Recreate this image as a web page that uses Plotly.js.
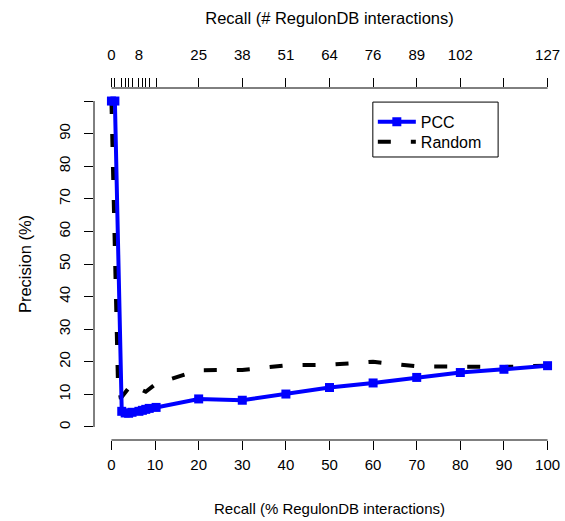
<!DOCTYPE html>
<html><head><meta charset="utf-8">
<script src="https://cdn.plot.ly/plotly-3.0.1.min.js"></script>
<style>html,body{margin:0;padding:0;background:#fff}#chart{width:565px;height:521px}</style>
</head><body><div id="chart"></div>
<script>
// ---- data ----
const pccRecall = [0, 0.79, 2.36, 3.15, 3.94, 4.72, 6.30, 7.09, 7.87, 8.66, 10.24, 20, 30, 40, 50, 60, 70, 80, 90, 100];
const pccPrecision = [100, 100, 4.8, 4.3, 4.2, 4.5, 4.8, 5.1, 5.4, 5.7, 6.0, 8.6, 8.2, 10.1, 12.1, 13.5, 15.2, 16.7, 17.7, 18.8];
const randomRecall = [0, 1.57, 2.36, 4.72, 6.30, 7.87, 10.24, 20, 30, 40, 50, 60, 70, 80, 90, 100];
const randomPrecision = [100, 9.0, 9.2, 13.3, 11.8, 10.8, 13.3, 17.4, 17.5, 18.9, 19.1, 20.0, 18.6, 18.4, 18.4, 18.8];
const seriesNames = ['PCC', 'Random'];

const bottomTickVals = [0, 10, 20, 30, 40, 50, 60, 70, 80, 90, 100];
const leftTickVals = [0, 10, 20, 30, 40, 50, 60, 70, 80, 90, 100];
const leftTickText = ['0', '10', '20', '30', '40', '50', '60', '70', '80', '90', ''];
const totalInteractions = 127;
const topTickCounts = [0, 1, 3, 4, 5, 6, 8, 9, 10, 11, 13];
const topTickPercents = [20, 30, 40, 50, 60, 70, 80, 90, 100];
const topTickText = ['0', '', '', '', '', '', '8', '', '', '', '', '25', '38', '51', '64', '76', '89', '102', '', '127'];

const xTitle = 'Recall (% RegulonDB interactions)';
const x2Title = 'Recall (# RegulonDB interactions)';
const yTitle = 'Precision (%)';

// ---- build ----
const topTickVals = topTickCounts.map(c => c / totalInteractions * 100).concat(topTickPercents);
const FONT = 'Liberation Sans, Arial, Helvetica, sans-serif';
const fs = 15;

const traces = [
  { x: randomRecall, y: randomPrecision, name: seriesNames[1], type: 'scatter', mode: 'lines',
    line: { color: '#000000', width: 4, dash: '13px,20px' }, xaxis: 'x', yaxis: 'y', legend: 'legend2' },
  { x: pccRecall, y: pccPrecision, name: seriesNames[0], type: 'scatter', mode: 'lines+markers',
    line: { color: '#0000FF', width: 4 }, marker: { symbol: 'square', size: 9, color: '#0000FF' },
    xaxis: 'x', yaxis: 'y', legend: 'legend' },
  { x: [], y: [], xaxis: 'x2', yaxis: 'y', showlegend: false, hoverinfo: 'skip' }
];

const xmin = Math.min(...bottomTickVals), xmax = Math.max(...bottomTickVals);
const ymin = Math.min(...leftTickVals), ymax = Math.max(...leftTickVals);
const axisLine = { color: '#000', width: 1 };

const common = {
  showgrid: false, zeroline: false, showline: false, ticks: 'outside', ticklen: 9, tickwidth: 1,
  tickcolor: '#000', tickfont: { family: FONT, size: fs, color: '#000' }, fixedrange: true
};

const legendCommon = {
  x: 0.592, xanchor: 'left', yanchor: 'middle', bgcolor: 'rgba(0,0,0,0)', borderwidth: 0,
  font: { family: FONT, size: 16, color: '#000' }, itemwidth: 38
};

const layout = {
  width: 565, height: 521,
  margin: { l: 94, r: 0, t: 88, b: 81, pad: 0 },
  paper_bgcolor: '#fff', plot_bgcolor: '#fff',
  font: { family: FONT, size: fs, color: '#000' },
  xaxis: Object.assign({}, common, {
    range: [-4, 104], tickmode: 'array', tickvals: bottomTickVals, ticklabelstandoff: 2,
    title: { text: xTitle, font: { family: FONT, size: 15 }, standoff: 31 }, automargin: false
  }),
  xaxis2: Object.assign({}, common, {
    range: [-4, 104], overlaying: 'x', side: 'top', anchor: 'y', tickmode: 'array',
    tickvals: topTickVals, ticktext: topTickText, ticklabelstandoff: 12,
    title: { text: x2Title, font: { family: FONT, size: 16.5 }, standoff: 17 }, automargin: false
  }),
  yaxis: Object.assign({}, common, {
    range: [-4, 104], tickmode: 'array', tickvals: leftTickVals, ticktext: leftTickText, tickangle: -90,
    ticklabelstandoff: 8,
    title: { text: yTitle, font: { family: FONT, size: 16.5 }, standoff: 20 }, automargin: false
  }),
  shapes: [
    { type: 'line', xref: 'x', yref: 'paper', x0: xmin, x1: xmax, y0: 0, y1: 0, line: axisLine },
    { type: 'line', xref: 'x', yref: 'paper', x0: xmin, x1: xmax, y0: 1, y1: 1, line: axisLine },
    { type: 'line', xref: 'paper', yref: 'y', x0: 0, x1: 0, y0: ymin, y1: ymax, line: axisLine },
    { type: 'rect', xref: 'paper', yref: 'paper', x0: 0.592, x1: 0.858, y0: 0.804, y1: 0.960,
      line: { color: '#000', width: 1 }, fillcolor: '#fff', layer: 'below' }
  ],
  showlegend: true,
  legend: Object.assign({}, legendCommon, { y: 0.904 }),
  legend2: Object.assign({}, legendCommon, { y: 0.847 })
};

Plotly.newPlot('chart', traces, layout, { staticPlot: true, displayModeBar: false });
</script></body></html>
